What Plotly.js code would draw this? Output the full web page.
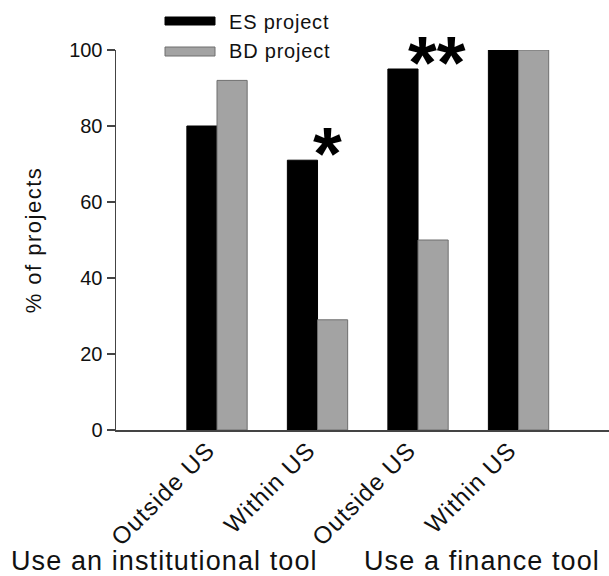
<!DOCTYPE html>
<html>
<head>
<meta charset="utf-8">
<script src="https://cdn.plot.ly/plotly-3.0.1.min.js"></script>
<style>
  html, body { margin: 0; padding: 0; background: #fff; }
  #chart { width: 609px; height: 576px; }
</style>
</head>
<body>
<div id="chart"></div>
<script>
// ---- data ----
const categories = ['Outside US', 'Within US', 'Outside US', 'Within US'];
const groupLabels = ['Use an institutional tool', 'Use a finance tool'];
const seriesNames = ['ES project', 'BD project'];
const esValues = [80, 71, 95, 100];
const bdValues = [92, 29, 50, 100];
const significance = ['', '*', '**', ''];
const yTicks = [0, 20, 40, 60, 80, 100];

// ---- helpers ----
const FONT = 'Liberation Sans, Arial, Helvetica, sans-serif';
const spaced = (s, px) => '<span style="letter-spacing:' + px + 'px">' + s + '</span>';
const xIdx = categories.map((_, i) => i);

const traces = [
  {
    type: 'bar', name: seriesNames[0], x: xIdx, y: esValues,
    marker: { color: '#000000', line: { color: '#000000', width: 1 } },
    showlegend: false, hoverinfo: 'y'
  },
  {
    type: 'bar', name: seriesNames[1], x: xIdx, y: bdValues,
    marker: { color: '#a3a3a3', line: { color: '#6e6e6e', width: 1 } },
    showlegend: false, hoverinfo: 'y'
  }
];

// plot area in pixels: x 116..609, y 50..430
const px = v => (v - 116) / 493;   // paper x from pixel
const py = v => (430 - v) / 380;   // paper y from pixel

const shapes = [
  { type: 'rect', xref: 'paper', yref: 'paper', x0: px(165), x1: px(215), y0: py(25), y1: py(17),
    fillcolor: '#000000', line: { color: '#000000', width: 1 } },
  { type: 'rect', xref: 'paper', yref: 'paper', x0: px(165), x1: px(215), y0: py(56), y1: py(47),
    fillcolor: '#a3a3a3', line: { color: '#6e6e6e', width: 1 } }
];

const annotations = [
  { xref: 'paper', yref: 'paper', x: px(227), y: py(21.5), xanchor: 'left', yanchor: 'middle',
    text: spaced(seriesNames[0], 0.8), showarrow: false, font: { family: FONT, size: 20, color: '#111' } },
  { xref: 'paper', yref: 'paper', x: px(227), y: py(51.5), xanchor: 'left', yanchor: 'middle',
    text: spaced(seriesNames[1], 0.8), showarrow: false, font: { family: FONT, size: 20, color: '#111' } },
  { xref: 'paper', yref: 'paper', x: px(164), y: py(561), xanchor: 'center', yanchor: 'middle',
    text: spaced(groupLabels[0], 1.1), showarrow: false, font: { family: FONT, size: 27, color: '#111' } },
  { xref: 'paper', yref: 'paper', x: px(482), y: py(561), xanchor: 'center', yanchor: 'middle',
    text: spaced(groupLabels[1], 1.1), showarrow: false, font: { family: FONT, size: 27, color: '#111' } }
];

significance.forEach((s, i) => {
  if (!s) return;
  annotations.push({
    xref: 'x', yref: 'y', x: xIdx[i], y: Math.max(esValues[i], bdValues[i]),
    xshift: 9.5 * s.length, yshift: 7,
    xanchor: 'center', yanchor: 'middle', text: s, showarrow: false,
    font: { family: FONT, size: 74, color: '#000', weight: 'bold' }
  });
});

const layout = {
  width: 609, height: 576,
  margin: { l: 116, r: 0, t: 50, b: 146, pad: 0 },
  paper_bgcolor: '#ffffff', plot_bgcolor: '#ffffff',
  barmode: 'group', bargap: 0.4, bargroupgap: 0,
  font: { family: FONT, color: '#111' },
  xaxis: {
    range: [-1.005, 3.9], tickmode: 'array', tickvals: xIdx,
    ticktext: categories.map(c => spaced(c, 1.2)),
    tickangle: -45, tickfont: { family: FONT, size: 24, color: '#111' },
    ticklabelshift: -9, ticklabelstandoff: -5,
    ticks: '', showline: true, linecolor: '#444', linewidth: 1.5,
    showgrid: false, zeroline: false, fixedrange: true
  },
  yaxis: {
    range: [0, 100], tickmode: 'array', tickvals: yTicks,
    ticks: 'outside', ticklen: 8, tickwidth: 1.2, tickcolor: '#444',
    tickfont: { family: FONT, size: 20, color: '#111' },
    showline: true, linecolor: '#444', linewidth: 1.5,
    showgrid: false, zeroline: false, fixedrange: true,
    title: { text: spaced('% of projects', 1.5), font: { family: FONT, size: 22, color: '#111' }, standoff: 21 }
  },
  shapes: shapes,
  annotations: annotations,
  showlegend: false
};

Plotly.newPlot('chart', traces, layout, { displayModeBar: false, staticPlot: true });
</script>
</body>
</html>
